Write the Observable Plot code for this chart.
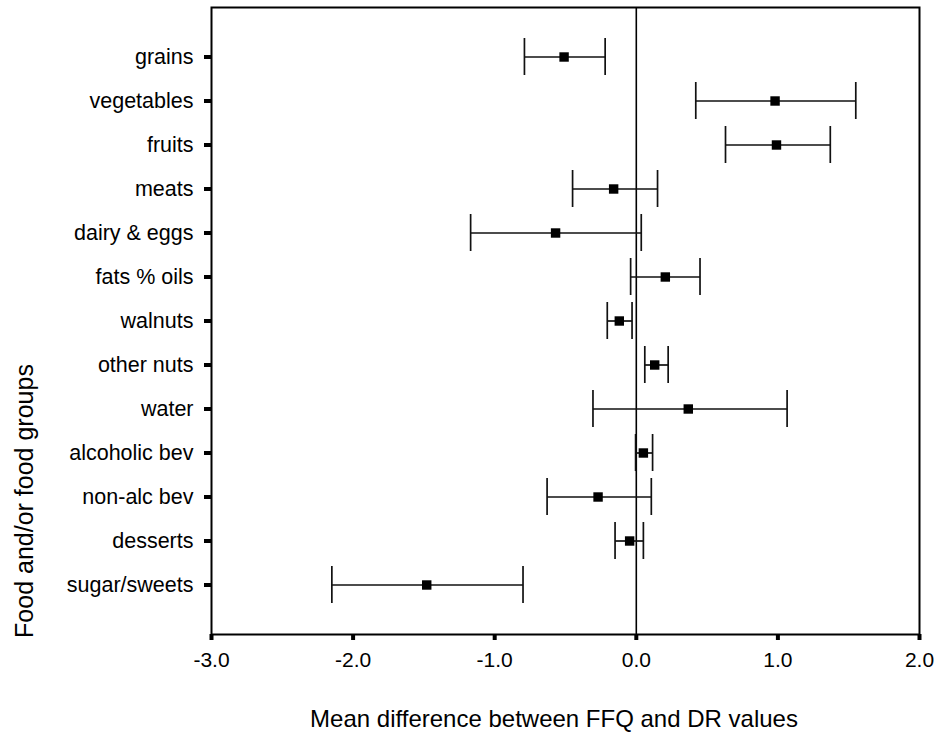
<!DOCTYPE html>
<html>
<head>
<meta charset="utf-8">
<script src="https://cdn.jsdelivr.net/npm/d3@7"></script>
<script src="https://cdn.jsdelivr.net/npm/@observablehq/plot@0.6"></script>
<style>
  body { margin: 0; background: #fff; }
  #chart svg { display: block; }
</style>
</head>
<body>
<div id="chart"></div>
<script>
const foods = ["grains", "vegetables", "fruits", "meats", "dairy & eggs", "fats % oils", "walnuts", "other nuts", "water", "alcoholic bev", "non-alc bev", "desserts", "sugar/sweets"];
const meanDiff = [-0.51, 0.98, 0.99, -0.16, -0.57, 0.205, -0.12, 0.13, 0.367, 0.05, -0.27, -0.047, -1.48];
const lower = [-0.79, 0.42, 0.63, -0.45, -1.17, -0.04, -0.205, 0.06, -0.306, -0.005, -0.63, -0.15, -2.15];
const upper = [-0.22, 1.55, 1.37, 0.15, 0.035, 0.45, -0.03, 0.225, 1.065, 0.115, 0.106, 0.05, -0.80];
const xTicks = [-3, -2, -1, 0, 1, 2];
const xTitle = "Mean difference between FFQ and DR values";
const yTitle = "Food and/or food groups";

const data = foods.map((f, i) => ({food: f, mean: meanDiff[i], lo: lower[i], hi: upper[i]}));

const font = "'Liberation Sans', Arial, sans-serif";

const chart = Plot.plot({
  width: 935,
  height: 744,
  marginLeft: 211,
  marginRight: 16,
  marginTop: 7,
  marginBottom: 110,
  style: {fontFamily: font, fontSize: "21px", color: "#000", background: "#fff"},
  x: {domain: [-3, 2], ticks: xTicks},
  y: {domain: foods, type: "band", paddingInner: 0.157, paddingOuter: 0.7},
  marks: [
    Plot.ruleX([0], {stroke: "#000", strokeWidth: 1.6}),
    Plot.link(data, {x1: "lo", x2: "hi", y1: "food", y2: "food", stroke: "#111", strokeWidth: 1.7}),
    Plot.tickX(data, {x: "lo", y: "food", stroke: "#111", strokeWidth: 1.7}),
    Plot.tickX(data, {x: "hi", y: "food", stroke: "#111", strokeWidth: 1.7}),
    Plot.dot(data, {x: "mean", y: "food", r: 6, fill: "#000", stroke: "none", symbol: "square2"}),
    Plot.frame({stroke: "#000", strokeWidth: 2}),
    Plot.axisY({tickSize: 7, tickPadding: 11, strokeWidth: 4, label: null, fontSize: 21.5}),
    Plot.axisX({ticks: xTicks, tickSize: 6, tickPadding: 12, strokeWidth: 4, label: null, fontSize: 21,
      tickFormat: d => d.toFixed(1)}),
    Plot.text([xTitle], {frameAnchor: "bottom", dx: -11.5, dy: 92, fontSize: 24, fill: "#000", text: d => d}),
    Plot.text([yTitle], {frameAnchor: "left", dx: -187, dy: 180, rotate: -90, textAnchor: "middle", fontSize: 25, fill: "#000", text: d => d})
  ]
});
document.getElementById("chart").appendChild(chart);
</script>
</body>
</html>
